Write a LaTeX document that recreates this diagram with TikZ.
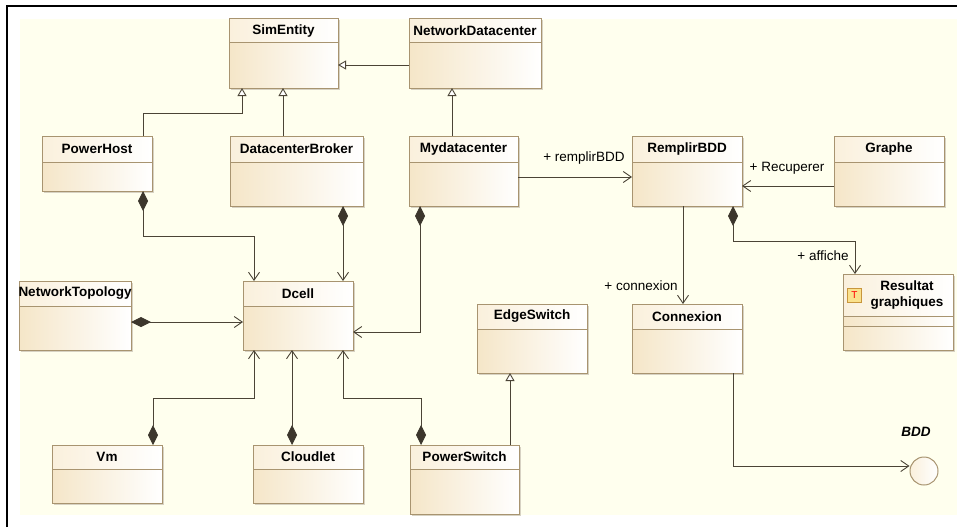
\documentclass[tikz,border=0pt]{standalone}
\usepackage{fontspec}
\setmainfont{Liberation Sans}
\usetikzlibrary{arrows.meta}
\definecolor{bgc}{RGB}{255,255,238}
\definecolor{bodytan}{RGB}{245,230,200}
\definecolor{headtan}{RGB}{250,240,220}
\definecolor{boxc}{RGB}{168,148,112}
\definecolor{linec}{RGB}{75,68,54}
\definecolor{diamc}{RGB}{60,54,44}
\definecolor{shadowc}{RGB}{215,210,195}
\definecolor{iconc}{RGB}{250,225,140}
\definecolor{iconb}{RGB}{200,150,60}
\tikzset{
  clsframe/.style={draw=boxc, line width=1pt, inner sep=0pt, outer sep=0pt},
  boxline/.style={draw=boxc, line width=1pt},
  clstitle/.style={font=\fontsize{13.5}{16}\selectfont\bfseries, text=black, inner sep=0pt},
  lbl/.style={font=\fontsize{13.5}{15}\selectfont, text=black, inner sep=0pt},
  conn/.style={draw=linec, line width=0.9pt},
  gen/.style={conn, -{Triangle[open, length=8pt, width=9pt, fill=white]}},
  comp/.style={conn, {Diamond[length=20pt, width=10pt, fill=diamc, color=diamc]}-{Straight Barb[length=8pt, width=11pt]}},
  assoc/.style={conn, -{Straight Barb[length=8pt, width=11pt]}},
}
% name, x1, y1, x2, y2, header y, text
\newcommand\umlcls[7]{%
  \fill[shadowc] ({#2+1.5},{#3+1.5}) rectangle ({#4+1.5},{#5+1.5});
  \shade[left color=bodytan,right color=white] (#2,#6) rectangle (#4,#5);
  \shade[left color=headtan,right color=white] (#2,#3) rectangle (#4,#6);
  \node[clsframe,anchor=north west,minimum width={(#4-#2)*1pt},minimum height={(#5-#3)*1pt}] (#1) at (#2,#3) {};
  \draw[boxline] (#2,#6) -- (#4,#6);
  \node[clstitle] (#1-t) at ({(#2+#4)/2},{(#3+#6)/2}) {#7};
}
\begin{document}
\begin{tikzpicture}[x=1pt,y=-1pt]
\useasboundingbox (0,0) rectangle (957,527);
\fill[white] (0,0) rectangle (957,527);
\fill[bgc] (20,19) rectangle (957,515);
\draw[line width=2pt,black] (7,527) -- (7,6) -- (957,6);

\umlcls{sim}{229}{19}{338}{88}{43}{SimEntity}
\umlcls{ndc}{409}{19}{541}{88}{43}{NetworkDatacenter}
\umlcls{ph}{42}{136}{152}{191}{162}{PowerHost}
\umlcls{dcb}{230}{136}{363}{206}{162}{DatacenterBroker}
\umlcls{myd}{409}{136}{518}{206}{162}{Mydatacenter}
\umlcls{rb}{632}{136}{742}{206}{162}{RemplirBDD}
\umlcls{gr}{834}{136}{944}{206}{162}{Graphe}
\umlcls{nt}{19}{281}{131}{350}{306}{NetworkTopology}
\umlcls{dc}{243}{281}{353}{350}{306}{Dcell}
\umlcls{es}{477}{304}{587}{373}{329}{EdgeSwitch}
\umlcls{cx}{632}{304}{742}{373}{329}{Connexion}
\umlcls{vm}{52}{445}{162}{503}{469}{Vm}
\umlcls{cl}{253}{445}{363}{503}{469}{Cloudlet}
\umlcls{ps}{410}{445}{519}{514}{469}{PowerSwitch}

% Resultat graphiques (two-line header, two compartments)
\fill[shadowc] (844.5,275.5) rectangle (954.5,351.5);
\shade[left color=bodytan,right color=white] (843,316) rectangle (953,350);
\shade[left color=headtan,right color=white] (843,274) rectangle (953,316);
\node[clsframe,anchor=north west,minimum width=110pt,minimum height=76pt] (res) at (843,274) {};
\draw[boxline] (843,316) -- (953,316);
\draw[boxline] (843,326) -- (953,326);
\node[clsframe,draw=iconb,fill=iconc,minimum width=14pt,minimum height=14pt,anchor=center,
      font=\fontsize{10}{10}\selectfont, text=red] (resicon) at (854.5,295) {T};
\node[clstitle,align=center] (res-t) at (907,295) {Resultat\\graphiques};

% BDD interface
\node[circle,draw=boxc,line width=1pt,left color=headtan,right color=white,minimum size=28pt,inner sep=0pt] (bdd) at (924,471) {};
\node[font=\fontsize{13.5}{15}\selectfont\bfseries\itshape,inner sep=0pt] (bdd-t) at (916,432) {BDD};

% generalizations
\draw[gen] (ndc.west |- 0,65) -- (sim.east |- 0,65);
\draw[gen] (143,0 |- ph.north) |- (242,113) -- (242,0 |- sim.south);
\draw[gen] (283,0 |- dcb.north) -- (283,0 |- sim.south);
\draw[gen] (452,0 |- myd.north) -- (452,0 |- ndc.south);
\draw[gen] (510,0 |- ps.north) -- (510,0 |- es.south);

% compositions into Dcell
\draw[comp] (143,0 |- ph.south) |- (254,236) -- (254,0 |- dc.north);
\draw[comp] (343,0 |- dcb.south) -- (343,0 |- dc.north);
\draw[comp] (420,0 |- myd.south) |- (dc.east |- 0,332);
\draw[comp] (nt.east |- 0,322) -- (dc.west |- 0,322);
\draw[comp] (153,0 |- vm.north) |- (254,398) -- (254,0 |- dc.south);
\draw[comp] (292,0 |- cl.north) -- (292,0 |- dc.south);
\draw[comp] (421,0 |- ps.north) |- (343,398) -- (343,0 |- dc.south);

% associations
\draw[assoc] (myd.east |- 0,177) -- (rb.west |- 0,177);
\node[lbl] (l1) at (584,158) {+ remplirBDD};
\draw[assoc] (gr.west |- 0,186) -- (rb.east |- 0,186);
\node[lbl] (l2) at (787,168) {+ Recuperer};
\draw[assoc] (683,0 |- rb.south) -- (683,0 |- cx.north);
\node[lbl] (l3) at (641,286) {+ connexion};
\draw[comp] (733,0 |- rb.south) |- (855,241) -- (855,0 |- res.north);
\node[lbl] (l4) at (823,256) {+ affiche};
\draw[assoc] (733,0 |- cx.south) |- (bdd.west |- 0,466);
\end{tikzpicture}
\end{document}
